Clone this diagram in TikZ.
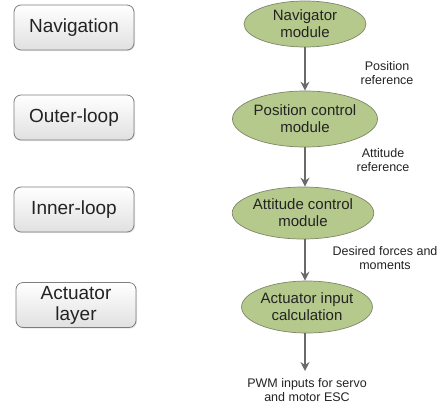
\documentclass[tikz,border=0pt]{standalone}
\usepackage{fontspec}
\setmainfont{Liberation Sans}
\usetikzlibrary{shapes.geometric,arrows.meta,shadows}
\definecolor{ellfill}{RGB}{181,201,140}
\definecolor{elldraw}{RGB}{125,135,105}
\definecolor{arrowgray}{RGB}{105,105,105}
\definecolor{boxdraw}{RGB}{125,125,125}
\definecolor{txt}{RGB}{35,35,35}
\tikzset{
  layerbox/.style={draw=boxdraw, line width=0.8pt, rounded corners=7pt, minimum width=120pt, minimum height=45pt, inner sep=0pt, top color=white, bottom color=black!12, align=center, font=\fontsize{19}{21}\selectfont, text=txt, drop shadow={opacity=0.2, shadow xshift=1pt, shadow yshift=-1pt}},
  module/.style={ellipse, draw=elldraw, line width=0.7pt, fill=ellfill, inner sep=0pt, align=center, font=\fontsize{15}{17}\selectfont, text=txt},
  sig/.style={align=center, font=\fontsize{12.5}{14}\selectfont, text=txt},
  flow/.style={draw=arrowgray, line width=2pt, -{Stealth[length=9pt,width=9pt,inset=3pt]}}
}
\begin{document}
\begin{tikzpicture}[x=1pt,y=-1pt]
\useasboundingbox (0,0) rectangle (446,410);
\node[layerbox] (nav) at (74,27.5) {Navigation};
\node[layerbox] (outer) at (74,117.5) {Outer-loop};
\node[layerbox] (inner) at (74,209.5) {Inner-loop};
\node[layerbox] (act) at (76,305) {Actuator\\layer};

\node[module, minimum width=122pt, minimum height=46pt] (m1) at (305,24) {Navigator\\module};
\node[module, minimum width=122pt, minimum height=56pt] (m2) at (305,119) {Position control\\module};
\node[module, minimum width=114pt, minimum height=52pt] (m3) at (303,213) {Attitude control\\module};
\node[module, minimum width=124pt, minimum height=52pt] (m4) at (307,307) {Actuator input\\calculation};

\coordinate (out) at (305,371);
\draw[flow] (m1.south -| 305,0) -- (m2.north -| 305,0);
\draw[flow] (m2.south -| 305,0) -- (m3.north -| 305,0);
\draw[flow] (m3.south -| 305,0) -- (m4.north -| 305,0);
\draw[flow] (m4.south -| 305,0) -- (out);

\node[sig] (l1) at (387,73) {Position\\reference};
\node[sig] (l2) at (383,160) {Attitude\\reference};
\node[sig] (l3) at (385,258) {Desired forces and\\moments};
\node[sig] (l4) at (307,390) {PWM inputs for servo\\and motor ESC};
\end{tikzpicture}
\end{document}
